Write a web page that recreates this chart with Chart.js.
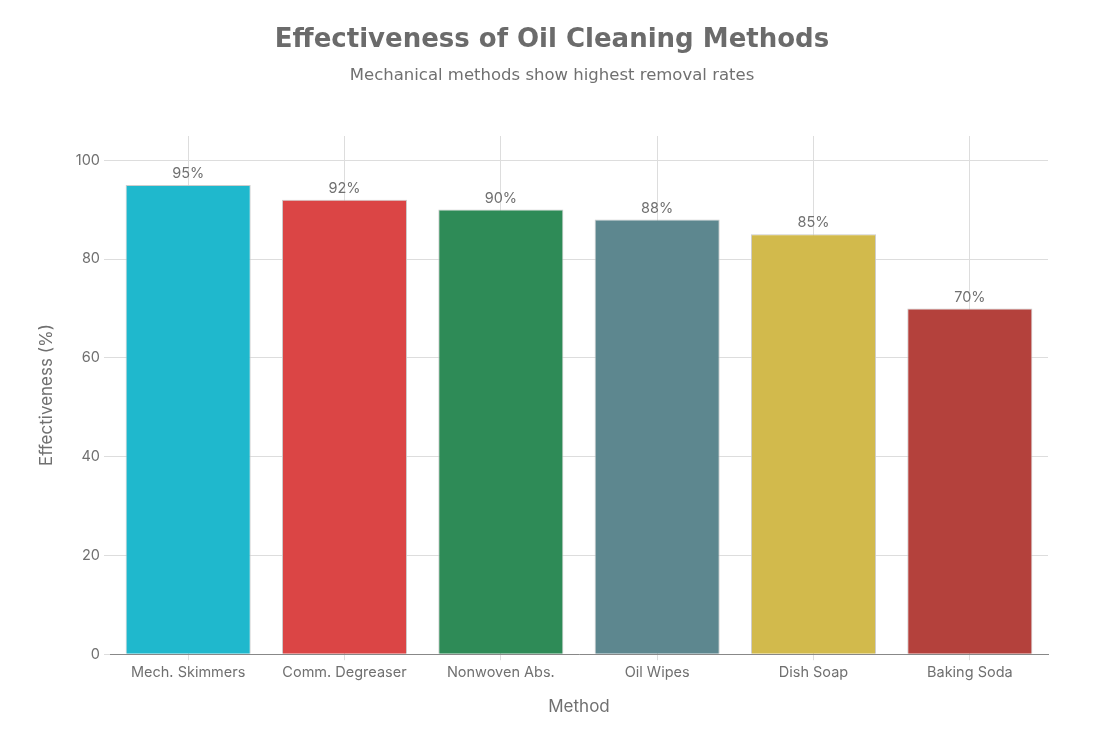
<!DOCTYPE html>
<html><head><meta charset="utf-8">
<script src="https://cdn.jsdelivr.net/npm/chart.js@4/dist/chart.umd.min.js"></script>
<style>html,body{margin:0;padding:0;background:#fff}#wrap{width:1104px;height:736px}</style>
</head><body><div id="wrap"><canvas id="c" width="1104" height="736"></canvas></div>
<script>
const categories = ["Mech. Skimmers","Comm. Degreaser","Nonwoven Abs.","Oil Wipes","Dish Soap","Baking Soda"];
const values = [95, 92, 90, 88, 85, 70];
const colors = ["#1FB8CD","#DB4545","#2E8B57","#5D878F","#D2BA4C","#B4413C"];
const yTicks = [0,20,40,60,80,100];

const tickFont = {family: "Inter, 'Open Sans', sans-serif", size: 14.5};
const labelPlugin = {
  id: 'barLabels',
  afterDatasetsDraw(chart) {
    const ctx = chart.ctx;
    const meta = chart.getDatasetMeta(0);
    ctx.save();
    ctx.font = "14.5px Inter, 'Open Sans', sans-serif";
    ctx.fillStyle = "#707070";
    ctx.textAlign = "center";
    ctx.textBaseline = "bottom";
    meta.data.forEach((bar, i) => {
      ctx.fillText(values[i] + "%", bar.x, bar.y - 4);
    });
    ctx.restore();
  }
};

new Chart(document.getElementById('c'), {
  type: 'bar',
  data: {
    labels: categories,
    datasets: [{
      data: values,
      backgroundColor: colors,
      borderColor: "rgba(200,200,200,0.9)",
      borderWidth: 1,
      barPercentage: 0.8,
      categoryPercentage: 1.0
    }]
  },
  options: {
    responsive: false,
    animation: false,
    devicePixelRatio: 1,
    layout: {padding: {left: 0, right: 0, top: 0, bottom: 15}},
    plugins: {
      legend: {display: false},
      tooltip: {enabled: false},
      title: {
        display: true,
        text: "Effectiveness of Oil Cleaning Methods",
        color: "#6b6b6b",
        font: {family: "'DejaVu Sans', sans-serif", size: 26, weight: "bold"},
        padding: {top: 25, bottom: 10}
      },
      subtitle: {
        display: true,
        text: "Mechanical methods show highest removal rates",
        color: "#707070",
        font: {family: "'DejaVu Sans', sans-serif", size: 16.5},
        padding: {top: 0, bottom: 50}
      }
    },
    scales: {
      x: {
        grid: {display: true, offset: false, color: "#dddddd", tickLength: 6, drawTicks: true},
        border: {display: true, color: "#888888", width: 1},
        ticks: {color: "#707070", font: tickFont, padding: 4, maxRotation: 0},
        title: {display: true, text: "Method", color: "#707070", font: {family: "Inter, 'Open Sans', sans-serif", size: 17}, padding: {top: 11}}
      },
      y: {
        min: 0, max: 104.9,
        afterBuildTicks(axis) { axis.ticks = yTicks.map(v => ({value: v})); },
        afterFit(axis) { axis.width = 110; },
        grid: {color: "#dddddd", tickLength: 6, drawTicks: true},
        border: {display: false},
        ticks: {color: "#707070", font: tickFont, padding: 4},
        title: {display: true, text: "Effectiveness (%)", color: "#707070", font: {family: "Inter, 'Open Sans', sans-serif", size: 17}, padding: {top: 37, bottom: 0}}
      },
      yR: {
        position: 'right',
        min: 0, max: 104.9,
        afterFit(axis) { axis.width = 56; },
        grid: {display: false, drawTicks: false},
        border: {display: false},
        ticks: {display: false}
      }
    }
  },
  plugins: [labelPlugin]
});
</script></body></html>
